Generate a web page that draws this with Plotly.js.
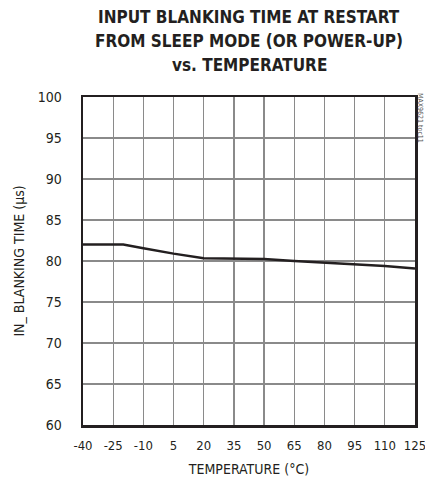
<!DOCTYPE html>
<html>
<head>
<meta charset="utf-8">
<script src="https://cdn.plot.ly/plotly-3.0.1.min.js"></script>
<style>html,body{margin:0;padding:0;background:#fff;}#chart{width:425px;height:490px;}</style>
</head>
<body>
<div id="chart"></div>
<script>
const temperature = [-40, -25, -20, -10, 5, 20, 35, 45, 50, 65, 80, 95, 110, 125];
const blankingTime = [82.0, 82.0, 82.0, 81.55, 80.9, 80.35, 80.3, 80.3, 80.25, 80.0, 79.8, 79.6, 79.4, 79.1];
const xTicks = [-40, -25, -10, 5, 20, 35, 50, 65, 80, 95, 110, 125];
const yTicks = [60, 65, 70, 75, 80, 85, 90, 95, 100];
const titleLines = ['INPUT BLANKING TIME AT RESTART', 'FROM SLEEP MODE (OR POWER-UP)', 'vs. TEMPERATURE'];

const FONT = "'DejaVu Sans Condensed', 'Liberation Sans', Arial, sans-serif";
const INK = '#231f20';

const trace = {
  x: temperature, y: blankingTime, type: 'scatter', mode: 'lines',
  line: {color: INK, width: 2.5}, hoverinfo: 'skip'
};

const titleShifts = [80, 56, 32];
const annotations = titleLines.map((t, i) => ({
  text: t, xref: 'paper', yref: 'paper', x: 0.5, y: 1,
  xanchor: 'center', yanchor: 'middle', yshift: titleShifts[i], showarrow: false,
  font: {family: FONT, size: 17, color: INK, weight: 'bold'}
}));
annotations.push({
  text: 'MAX9621 toc11', xref: 'paper', yref: 'paper', x: 1.0, y: 1.0,
  xanchor: 'center', yanchor: 'top', xshift: 5, yshift: 6, textangle: 90, showarrow: false,
  font: {family: FONT, size: 7, color: '#555'}
});

const layout = {
  width: 425, height: 490,
  margin: {l: 83, r: 10, t: 97, b: 65},
  paper_bgcolor: '#fff', plot_bgcolor: '#fff',
  showlegend: false,
  xaxis: {
    range: [-40, 125], tickvals: xTicks, ticktext: xTicks.map(String),
    showgrid: true, gridcolor: '#8a8a8a', gridwidth: 1.2,
    showline: true, mirror: true, linecolor: INK, linewidth: 2.5,
    zeroline: false, ticks: '', ticklabelstandoff: 7, ticklabeloverflow: 'allow',
    tickfont: {family: FONT, size: 13, color: INK},
    title: {text: 'TEMPERATURE (°C)', font: {family: FONT, size: 14, color: INK}, standoff: 12}
  },
  yaxis: {
    range: [60, 100], tickvals: yTicks, ticktext: yTicks.map(String),
    showgrid: true, gridcolor: '#8a8a8a', gridwidth: 1.2,
    showline: true, mirror: true, linecolor: INK, linewidth: 2.5,
    zeroline: false, ticks: '', ticklabelstandoff: 16, ticklabeloverflow: 'allow',
    tickfont: {family: FONT, size: 14, color: INK},
    title: {text: 'IN_ BLANKING TIME (µs)', font: {family: FONT, size: 14, color: INK}, standoff: 10}
  },
  annotations: annotations
};

Plotly.newPlot('chart', [trace], layout, {staticPlot: true, displayModeBar: false});
</script>
</body>
</html>
